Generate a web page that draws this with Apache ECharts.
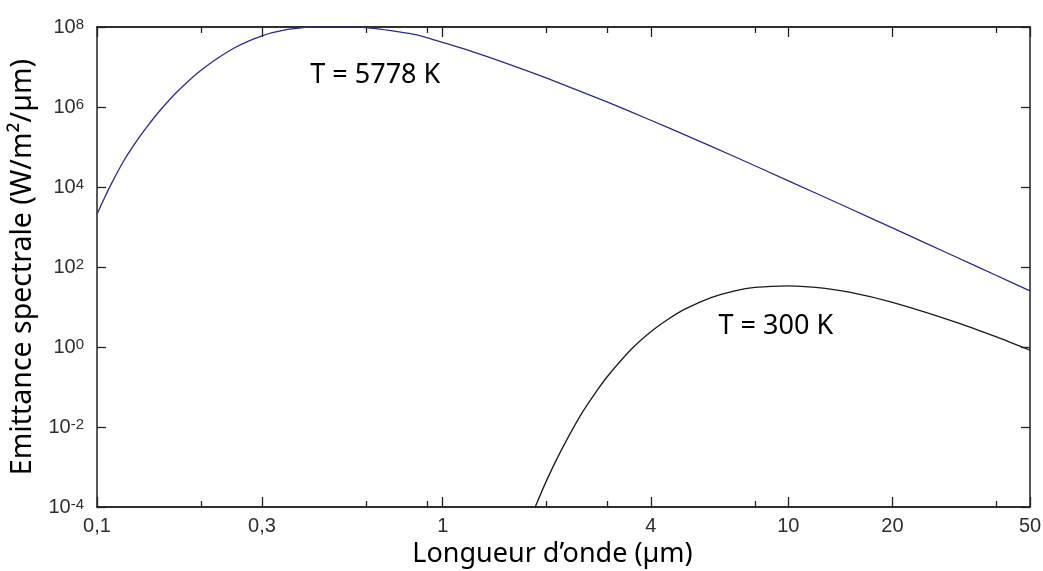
<!DOCTYPE html>
<html>
<head>
<meta charset="utf-8">
<script src="https://cdn.jsdelivr.net/npm/echarts@6/dist/echarts.min.js"></script>
<style>
  html, body { margin: 0; padding: 0; background: #ffffff; }
  #chart { width: 1043px; height: 571px; }
</style>
</head>
<body>
<div id="chart"></div>
<script>
// Black-body spectral emittance (W/m²/µm) against wavelength (µm)
const sunWavelengths = [0.1, 0.105, 0.11, 0.12, 0.13, 0.14, 0.15, 0.17, 0.2, 0.25, 0.3, 0.35, 0.4, 0.45, 0.5, 0.55, 0.6, 0.65, 0.7, 0.8, 0.9, 1, 1.2, 1.5, 2, 3, 4, 5, 7, 10, 15, 20, 30, 40, 50];
const sunEmittance = [2.09e3, 5.25e3, 1.2e4, 4.79e4, 1.38e5, 3.31e5, 7.08e5, 2.34e6, 8.32e6, 3.02e7, 6.03e7, 8.51e7, 9.77e7, 1.059e8, 1.072e8, 1.03e8, 9.66e7, 9.02e7, 8.22e7, 6.89e7, 5.45e7, 4.1e7, 2.53e7, 1.31e7, 5.28e6, 1.32e6, 4.66e5, 2.04e5, 5.71e4, 1.43e4, 2.94e3, 951, 191, 61.2, 25.2];

const earthWavelengths = [1.8, 2, 2.2, 2.5, 2.8, 3, 3.5, 4, 4.5, 5, 6, 7, 8, 10, 12, 15, 20, 30, 40, 50];
const earthEmittance = [5.6e-5, 4.7e-4, 2.57e-3, 0.019, 0.083, 0.186, 0.85, 2.4, 5.0, 8.7, 17.4, 25.4, 30.9, 33.9, 30.9, 23.4, 13.0, 4.37, 1.78, 0.83];

const curveNames = ['T = 5778 K', 'T = 300 K'];

// Axis ticks
const xMajorTicks = [0.1, 0.3, 1, 4, 10, 20, 50];
const xTickLabels = ['0,1', '0,3', '1', '4', '10', '20', '50'];
const xMinorTicks = [0.2, 0.6, 0.9, 2, 3, 8, 40];
const yTickExponents = [-4, -2, 0, 2, 4, 6, 8];

const lg = Math.log10;
const toPoints = (xs, ys) => xs.map((x, i) => [lg(x), lg(ys[i])]);

const xMin = lg(xMajorTicks[0]);
const xMax = lg(xMajorTicks[xMajorTicks.length - 1]);
const yMin = yTickExponents[0];
const yMax = yTickExponents[yTickExponents.length - 1];

const axisColor = '#222222';
const tickFont = { fontFamily: 'Liberation Sans', fontSize: 20, color: '#2e2e2e' };
const titleFont = { fontFamily: 'Noto Sans', fontSize: 27, color: '#000000' };

function xAxisDef(position, ticks, length, withLabels) {
  const vals = ticks.map(lg);
  return {
    type: 'value', position, offset: 0, min: xMin, max: xMax,
    axisLine: { show: true, onZero: false, lineStyle: { color: axisColor, width: 1.5 } },
    axisTick: { show: true, inside: true, length, customValues: vals, lineStyle: { color: axisColor, width: 1.3 } },
    axisLabel: withLabels ? {
      show: true, customValues: vals, margin: 9, ...tickFont,
      formatter: v => {
        const i = xMajorTicks.findIndex(t => Math.abs(lg(t) - v) < 1e-6);
        return i >= 0 ? xTickLabels[i] : '';
      }
    } : { show: false },
    splitLine: { show: false }
  };
}

function yAxisDef(position, withLabels) {
  return {
    type: 'value', position, min: yMin, max: yMax,
    axisLine: { show: true, onZero: false, lineStyle: { color: axisColor, width: 1.5 } },
    axisTick: { show: true, inside: true, length: 9, customValues: yTickExponents, lineStyle: { color: axisColor, width: 1.3 } },
    axisLabel: withLabels ? {
      show: true, customValues: yTickExponents, margin: 13,
      formatter: v => '{b|10}{s|' + Math.round(v) + '}',
      rich: {
        b: { ...tickFont, lineHeight: 20 },
        s: { fontFamily: 'Liberation Sans', fontSize: 15, color: '#2e2e2e', lineHeight: 15, verticalAlign: 'top', padding: [0, 0, 14, 0] }
      }
    } : { show: false },
    splitLine: { show: false }
  };
}

const xAxes = [
  xAxisDef('bottom', xMajorTicks, 10, true),
  xAxisDef('top', xMajorTicks, 10, false),
  xAxisDef('bottom', xMinorTicks, 6, false),
  xAxisDef('top', xMinorTicks, 6, false)
];
xAxes[0].name = 'Longueur d\u2019onde (µm)';
xAxes[0].nameLocation = 'middle';
xAxes[0].nameGap = 32;
xAxes[0].nameTextStyle = { ...titleFont, padding: [0, 22, 0, 0] };

const yAxes = [yAxisDef('left', true), yAxisDef('right', false)];
yAxes[0].name = 'Emittance spectrale (W/m²/µm)';
yAxes[0].nameLocation = 'middle';
yAxes[0].nameGap = 55;
yAxes[0].nameTextStyle = { ...titleFont, fontSize: 28.5 };

// Where each curve's temperature note is written (wavelength, emittance)
const noteAnchors = [[0.414, 6.2e6], [6.28, 3.3]];

function curve(name, xs, ys, color, note) {
  return {
    name, type: 'line', xAxisIndex: 0, yAxisIndex: 0,
    data: toPoints(xs, ys), showSymbol: false, smooth: 0.25, clip: true,
    lineStyle: { color, width: 1.3 },
    silent: true,
    markPoint: {
      symbol: 'circle', symbolSize: 0, silent: true,
      label: { show: true, position: 'right', distance: 0, ...titleFont, formatter: name },
      data: [{ coord: [lg(note[0]), lg(note[1])] }]
    }
  };
}

const chart = echarts.init(document.getElementById('chart'), null, { renderer: 'canvas' });
chart.setOption({
  animation: false,
  backgroundColor: '#ffffff',
  grid: { left: 97, right: 13, top: 27, bottom: 64, containLabel: false, outerBoundsMode: 'none' },
  xAxis: xAxes,
  yAxis: yAxes,
  series: [
    curve(curveNames[0], sunWavelengths, sunEmittance, '#2a2a8c', noteAnchors[0]),
    curve(curveNames[1], earthWavelengths, earthEmittance, '#1a1a1a', noteAnchors[1])
  ]
});
</script>
</body>
</html>
